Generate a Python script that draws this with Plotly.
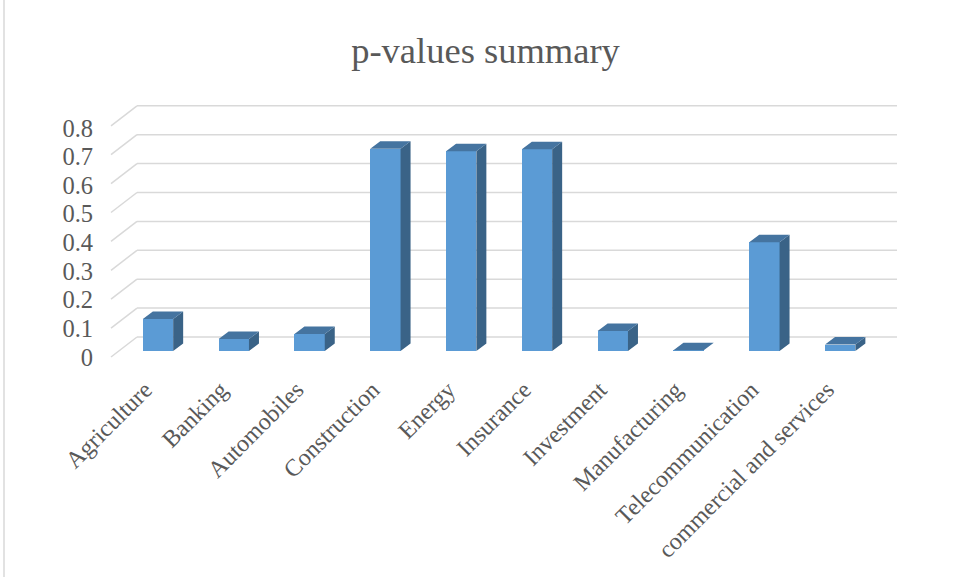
import plotly.graph_objects as go

# ---------------- data ----------------
categories = ["Agriculture", "Banking", "Automobiles", "Construction", "Energy",
              "Insurance", "Investment", "Manufacturing", "Telecommunication",
              "commercial and services"]
p_values = [0.110, 0.041, 0.059, 0.697, 0.689, 0.696, 0.069, 0.003, 0.375, 0.022]
y_ticks = [0, 0.1, 0.2, 0.3, 0.4, 0.5, 0.6, 0.7, 0.8]
y_tick_text = ["0", "0.1", "0.2", "0.3", "0.4", "0.5", "0.6", "0.7", "0.8"]
title_text = "p-values summary"

# ---------------- geometry (pixels) ----------------
W, H = 958, 577
PLOT_BOTTOM = 370          # bottom of plot area (px)
CAT_STEP = 75.8            # px per category
CAT0 = 158                 # px of first category centre
ZERO_PX = 351              # bar baseline (px)
UNIT_PX = 290              # px per 1.0 of value at bar plane
BAR_W = 0.40               # bar width in category units
DEPTH_DX = 10 / CAT_STEP   # 3D depth offset x (data units)
DEPTH_DY = 7.5 / UNIT_PX   # 3D depth offset y (data units)
LABEL_SHIFT = -13 / CAT_STEP

x_lo = -CAT0 / CAT_STEP
x_hi = x_lo + W / CAT_STEP
y_lo = -(PLOT_BOTTOM - ZERO_PX) / UNIT_PX
y_hi = y_lo + PLOT_BOTTOM / UNIT_PX
y_dom0 = 1 - PLOT_BOTTOM / H

# tick label axis (front edge of floor)
LBL_ZERO_PX = 357
LBL_UNIT_PX = 286.25
y2_lo = -(PLOT_BOTTOM - LBL_ZERO_PX) / LBL_UNIT_PX
y2_hi = y2_lo + PLOT_BOTTOM / LBL_UNIT_PX

FRONT = "#5B9BD5"
SIDE = "#3A6387"
TOP = "#4574A0"
GRID = "#D9D9D9"
TXT = "#595959"
FONT = "Liberation Serif, Times New Roman, serif"

def px(x):
    return x / W

def py(y):
    return 1 - y / H

xs = list(range(len(categories)))

# side and top faces built from the values
side_x, side_y, top_x, top_y = [], [], [], []
for i, v in zip(xs, p_values):
    l, r = i - BAR_W / 2, i + BAR_W / 2
    side_x += [r, r + DEPTH_DX, r + DEPTH_DX, r, r, None]
    side_y += [0, DEPTH_DY, v + DEPTH_DY, v, 0, None]
    top_x += [l, l + DEPTH_DX, r + DEPTH_DX, r, l, None]
    top_y += [v, v + DEPTH_DY, v + DEPTH_DY, v, v, None]

fig = go.Figure()
fig.add_trace(go.Bar(x=xs, y=p_values, width=BAR_W, marker=dict(color=FRONT, line=dict(width=0)),
                     hoverinfo="skip", showlegend=False))
fig.add_trace(go.Scatter(x=side_x, y=side_y, mode="lines", fill="toself", fillcolor=SIDE,
                         line=dict(width=0, color=SIDE), hoverinfo="skip", showlegend=False))
fig.add_trace(go.Scatter(x=top_x, y=top_y, mode="lines", fill="toself", fillcolor=TOP,
                         line=dict(width=0, color=TOP), hoverinfo="skip", showlegend=False))
# invisible trace on the tick-label axis
fig.add_trace(go.Scatter(x=[xs[0]], y=[0], yaxis="y2", mode="markers", marker=dict(opacity=0),
                         hoverinfo="skip", showlegend=False))

# back wall gridlines and floor diagonals
BACK_ZERO_PX, BACK_UNIT_PX = 337, 289
WALL_L, WALL_R = 137, 897
DIAG_DX, DIAG_DY = 26, 20
shapes = []
for t in y_ticks:
    yb = BACK_ZERO_PX - BACK_UNIT_PX * t
    shapes.append(dict(type="line", xref="paper", yref="paper", layer="below",
                       x0=px(WALL_L), x1=px(WALL_R), y0=py(yb), y1=py(yb),
                       line=dict(color=GRID, width=1.5)))
    shapes.append(dict(type="line", xref="paper", yref="paper", layer="below",
                       x0=px(WALL_L - DIAG_DX), x1=px(WALL_L), y0=py(yb + DIAG_DY), y1=py(yb),
                       line=dict(color=GRID, width=1.5)))
# chart border (left edge)
shapes.append(dict(type="line", xref="paper", yref="paper", layer="below",
                   x0=px(4), x1=px(4), y0=0, y1=1, line=dict(color=GRID, width=1.5)))

fig.update_layout(
    width=W, height=H,
    margin=dict(l=0, r=0, t=0, b=0),
    paper_bgcolor="white", plot_bgcolor="rgba(0,0,0,0)",
    title=dict(text=title_text, x=485.5 / W, xanchor="center", y=1 - 50 / H, yanchor="middle",
               xref="paper", yref="container",
               font=dict(family=FONT, size=36.5, color=TXT)),
    xaxis=dict(domain=[0, 1], range=[x_lo, x_hi],
               tickvals=[i + LABEL_SHIFT for i in xs], ticktext=categories,
               tickangle=-45, showgrid=False, zeroline=False, showline=False, ticks="",
               tickfont=dict(family=FONT, size=24, color=TXT)),
    yaxis=dict(domain=[y_dom0, 1], range=[y_lo, y_hi], showgrid=False, zeroline=False,
               showticklabels=False, showline=False, ticks=""),
    yaxis2=dict(overlaying="y", anchor="free", position=px(93), side="left",
                range=[y2_lo, y2_hi], tickvals=y_ticks, ticktext=y_tick_text,
                showgrid=False, zeroline=False, showline=False, ticks="",
                tickfont=dict(family=FONT, size=24.5, color=TXT)),
    shapes=shapes,
    bargap=0,
)

fig.write_html("out.html")
